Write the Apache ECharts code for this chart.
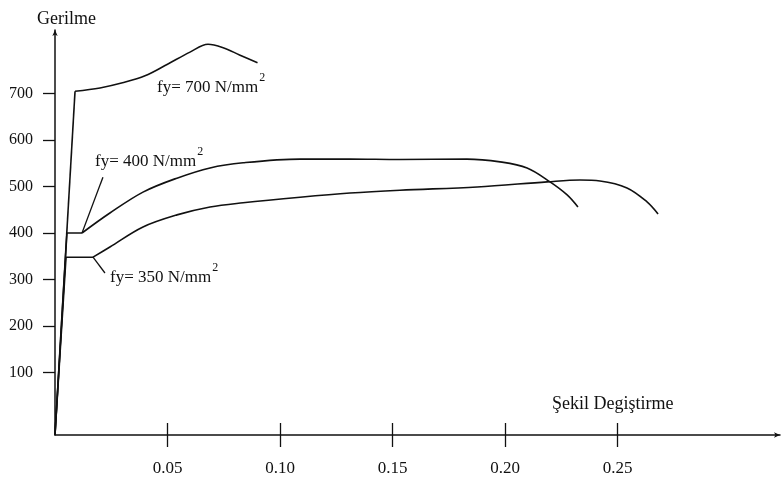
<!DOCTYPE html>
<html><head><meta charset="utf-8">
<script src="https://cdn.jsdelivr.net/npm/echarts@6/dist/echarts.min.js"></script>
<style>html,body{margin:0;padding:0;background:#fff}#c{width:783px;height:480px}</style>
</head><body><div id="c"></div>
<script>
const xTicks = [0.05, 0.10, 0.15, 0.20, 0.25];
const yTicks = [100, 200, 300, 400, 500, 600, 700];

const fy700X = [0, 0.0089, 0.02, 0.03, 0.04, 0.05, 0.06, 0.068, 0.075, 0.082, 0.090];
const fy700Y = [-34, 705, 712, 723, 738, 763, 789, 806, 798, 783, 766];

const fy400X = [0, 0.0053, 0.012, 0.0244, 0.0391, 0.0542, 0.0689, 0.0836, 0.1089, 0.1311, 0.1533, 0.1831, 0.1978, 0.2098, 0.22, 0.2276, 0.2324];
const fy400Y = [-34, 400, 400, 443, 488, 518, 540, 551, 559, 559, 558, 559, 553, 540, 510, 482, 456];

const fy350X = [0, 0.0049, 0.0169, 0.0244, 0.0391, 0.0542, 0.0689, 0.0836, 0.1089, 0.1311, 0.1533, 0.1876, 0.2187, 0.2333, 0.2422, 0.2542, 0.2631, 0.268];
const fy350Y = [-34, 348, 348, 370, 413, 439, 456, 465, 477, 486, 492, 499, 510, 514, 512, 497, 467, 441];

const lead400X = [0.0213, 0.012];
const lead400Y = [520, 400];
const lead350X = [0.0169, 0.0222];
const lead350Y = [348, 314];

const zip = (xs, ys) => xs.map((x, i) => [x, ys[i]]);
const FONT = "'Liberation Serif', 'DejaVu Serif', serif";

const chart = echarts.init(document.getElementById('c'));
const LS = { color: '#111', width: 1.6 };
// knee = index where straight elastic/plateau part ends and the smooth hardening part begins
const curveParts = (xs, ys, knee) => {
  const pts = zip(xs, ys);
  return [
    { type: 'line', data: pts.slice(0, knee + 1), showSymbol: false, smooth: false, lineStyle: LS, z: 3 },
    { type: 'line', data: pts.slice(knee), showSymbol: false, smooth: 0.35, lineStyle: LS, z: 3 }
  ];
};
const lead = (xs, ys) => ({
  type: 'line', data: zip(xs, ys), showSymbol: false,
  lineStyle: { color: '#111', width: 1.3 }
});

const ctx = document.createElement('canvas').getContext('2d');
const measure = (s, size) => { ctx.font = `${size}px ${FONT}`; return ctx.measureText(s).width; };
const txt = (x, y, s, size) => ({
  type: 'text', x, y,
  style: { text: s, font: `${size}px ${FONT}`, fill: '#111', verticalAlign: 'middle', align: 'left' }
});
const annot = (x, y, s) => [
  txt(x, y, s, 17),
  txt(x + measure(s, 17) + 1, y - 10, '2', 12)
];

chart.setOption({
  animation: false,
  backgroundColor: '#fff',
  grid: { left: 55, right: 3, top: 30, bottom: 45 },
  xAxis: [{
    type: 'value', min: 0, max: 0.3222,
    axisLine: { onZero: false, lineStyle: { color: '#111', width: 1.5 }, symbol: ['none', 'arrow'], symbolSize: [4, 6] },
    axisTick: { show: true, inside: false, length: 12, customValues: xTicks, lineStyle: { color: '#111', width: 1.3 } },
    axisLabel: { customValues: xTicks, margin: 25, color: '#111', fontFamily: FONT, fontSize: 17, formatter: v => v.toFixed(2) },
    splitLine: { show: false }
  }, {
    type: 'value', min: 0, max: 0.3222, position: 'bottom',
    axisLine: { show: false, onZero: false },
    axisTick: { show: true, inside: true, length: 12, customValues: xTicks, lineStyle: { color: '#111', width: 1.3 } },
    axisLabel: { show: false },
    splitLine: { show: false }
  }],
  yAxis: {
    type: 'value', min: -34.4, max: 836.6,
    axisLine: { show: true, onZero: false, lineStyle: { color: '#111', width: 1.5 }, symbol: ['none', 'arrow'], symbolSize: [4, 6] },
    axisTick: { show: true, length: 12, customValues: yTicks, lineStyle: { color: '#111', width: 1.3 } },
    axisLabel: { customValues: yTicks, margin: 22, color: '#111', fontFamily: FONT, fontSize: 16 },
    splitLine: { show: false }
  },
  series: [
    ...curveParts(fy700X, fy700Y, 1),
    ...curveParts(fy400X, fy400Y, 2),
    ...curveParts(fy350X, fy350Y, 2),
    lead(lead400X, lead400Y),
    lead(lead350X, lead350Y)
  ],
  graphic: [
    txt(37, 19, 'Gerilme', 18),
    txt(552, 404, 'Şekil Degiştirme', 18),
    ...annot(157, 88, 'fy= 700 N/mm'),
    ...annot(95, 162, 'fy= 400 N/mm'),
    ...annot(110, 278, 'fy= 350 N/mm')
  ]
});
</script></body></html>
